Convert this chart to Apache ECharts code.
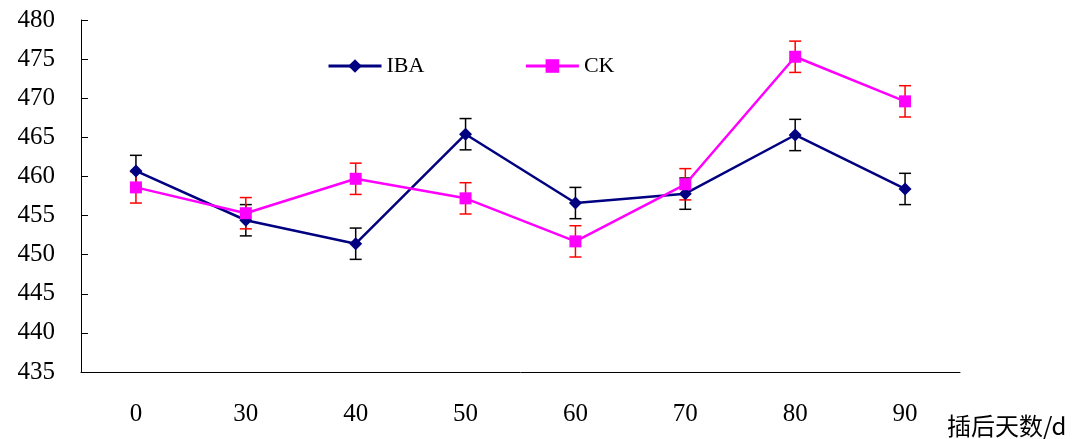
<!DOCTYPE html>
<html>
<head>
<meta charset="utf-8">
<script src="https://cdn.jsdelivr.net/npm/echarts@6/dist/echarts.min.js"></script>
<style>
  html, body { margin: 0; padding: 0; background: #fff; }
  #chart { width: 1088px; height: 439px; }
</style>
</head>
<body>
<div id="chart"></div>
<script>
const days = ['0', '30', '40', '50', '60', '70', '80', '90'];
const iba = [460.7, 454.4, 451.4, 465.4, 456.6, 457.8, 465.3, 458.4];
const ck = [458.6, 455.3, 459.7, 457.2, 451.7, 459.0, 475.3, 469.6];
const ibaErr = [2, 2, 2, 2, 2, 2, 2, 2];
const ckErr = [2, 2, 2, 2, 2, 2, 2, 2];

const serif = 'Liberation Serif';

// error bars drawn as custom series: [index, low, high]
function errorSeries(vals, errs, color) {
    return {
        type: 'custom',
        silent: true,
        z: 1,
        data: vals.map((v, i) => [i, v - errs[i], v + errs[i]]),
        renderItem(params, api) {
            const lo = api.coord([api.value(0), api.value(1)]);
            const hi = api.coord([api.value(0), api.value(2)]);
            const w = 6;
            const style = { stroke: color, lineWidth: 1.5 };
            return {
                type: 'group',
                children: [
                    { type: 'line', shape: { x1: lo[0], y1: lo[1], x2: hi[0], y2: hi[1] }, style },
                    { type: 'line', shape: { x1: lo[0] - w, y1: lo[1], x2: lo[0] + w, y2: lo[1] }, style },
                    { type: 'line', shape: { x1: hi[0] - w, y1: hi[1], x2: hi[0] + w, y2: hi[1] }, style }
                ]
            };
        }
    };
}

const chart = echarts.init(document.getElementById('chart'));
chart.setOption({
    animation: false,
    grid: { left: 81, right: 128, top: 20, bottom: 67 },
    legend: {
        top: 50,
        left: 322,
        itemWidth: 53,
        itemHeight: 17,
        itemGap: 100,
        data: ['IBA', 'CK'],
        lineStyle: { width: 3 },
        textStyle: { fontFamily: serif, fontSize: 22, color: '#000' }
    },
    xAxis: {
        type: 'category',
        data: days,
        boundaryGap: true,
        axisLine: { lineStyle: { color: '#000', width: 1 } },
        axisTick: { inside: true, length: 8, lineStyle: { color: '#000' } },
        axisLabel: { margin: 30, fontFamily: serif, fontSize: 25, color: '#000' },
        name: '插后天数/d',
        nameLocation: 'end',
        nameGap: -13,
        nameTextStyle: {
            fontFamily: 'Noto Sans CJK SC',
            fontSize: 24,
            color: '#000',
            align: 'left',
            verticalAlign: 'top',
            padding: [42, 0, 0, 0]
        }
    },
    yAxis: {
        type: 'value',
        min: 435,
        max: 480,
        interval: 5,
        splitLine: { show: false },
        axisLine: { show: true, lineStyle: { color: '#000', width: 1 } },
        axisTick: { show: true, inside: true, length: 7, lineStyle: { color: '#000' } },
        axisLabel: { margin: 26, fontFamily: serif, fontSize: 25, color: '#000' }
    },
    series: [
        errorSeries(iba, ibaErr, '#000'),
        errorSeries(ck, ckErr, '#ff0000'),
        {
            name: 'IBA',
            type: 'line',
            data: iba,
            symbol: 'diamond',
            symbolSize: 13,
            z: 3,
            lineStyle: { color: '#000080', width: 2.5 },
            itemStyle: { color: '#000080' }
        },
        {
            name: 'CK',
            type: 'line',
            data: ck,
            symbol: 'rect',
            symbolSize: 12,
            z: 4,
            lineStyle: { color: '#ff00ff', width: 2.5 },
            itemStyle: { color: '#ff00ff' }
        }
    ]
});
</script>
</body>
</html>
